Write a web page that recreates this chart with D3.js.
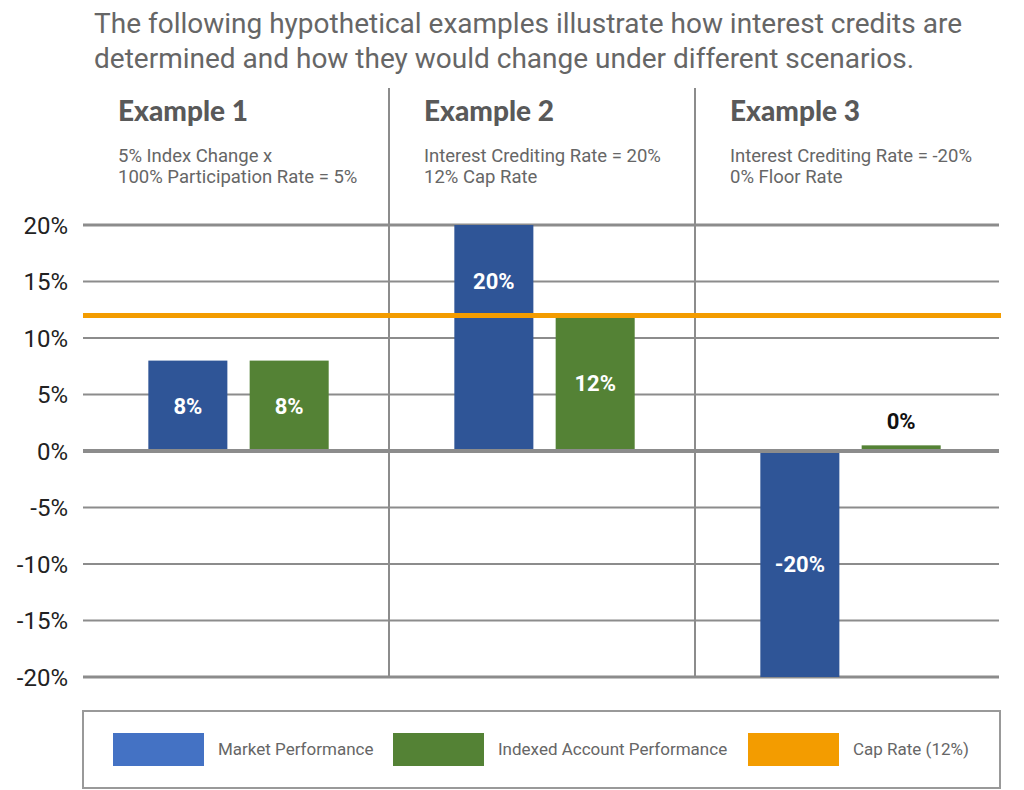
<!DOCTYPE html>
<html>
<head>
<meta charset="utf-8">
<script src="https://cdn.jsdelivr.net/npm/d3@7"></script>
<style>
  body { margin: 0; background: #fff; }
  svg { display: block; }
</style>
</head>
<body>
<script>
// chart data
var examples = ['Example 1', 'Example 2', 'Example 3'];
var exampleNotes = [
  ['5% Index Change x', '100% Participation Rate = 5%'],
  ['Interest Crediting Rate = 20%', '12% Cap Rate'],
  ['Interest Crediting Rate = -20%', '0% Floor Rate']
];
var series = ['Market Performance', 'Indexed Account Performance'];
var marketValues = [8, 20, -20];
var indexedValues = [8, 12, 0.5];
var marketLabels = ['8%', '20%', '-20%'];
var indexedLabels = ['8%', '12%', '0%'];
var capRate = 12;
var yTicks = [20, 15, 10, 5, 0, -5, -10, -15, -20];
var titleLines = [
  'The following hypothetical examples illustrate how interest credits are',
  'determined and how they would change under different scenarios.'
];
var legendItems = ['Market Performance', 'Indexed Account Performance', 'Cap Rate (12%)'];

var width = 1024, height = 790;
var barBlue = '#2f5597', barGreen = '#548235', capOrange = '#f39c00', legendBlue = '#4472c4';
var gridGray = '#8c8c8c';

var svg = d3.select('body')
            .append('svg')
            .attr('width', width)
            .attr('height', height);

var x0 = d3.scaleBand()
           .domain(examples)
           .range([83, 1001]);

var x1 = d3.scaleBand()
           .domain(series)
           .range([0, x0.bandwidth()])
           .paddingInner(0.22)
           .paddingOuter(0.62)
           .align(0.52);

var y = d3.scaleLinear()
          .domain([-20, 20])
          .range([677, 225]);

// title
svg.append('g')
   .selectAll('text')
   .data(titleLines)
   .enter()
   .append('text')
   .attr('x', 94)
   .attr('y', function (d, i) { return 33 + i * 35; })
   .style('font-family', 'Roboto')
   .style('font-size', '28px')
   .style('fill', '#666')
   .text(function (d) { return d; });

// horizontal grid
svg.append('g')
   .selectAll('line')
   .data(yTicks)
   .enter()
   .append('line')
   .attr('x1', 83)
   .attr('x2', 999)
   .attr('y1', function (d) { return y(d); })
   .attr('y2', function (d) { return y(d); })
   .attr('stroke', gridGray)
   .attr('stroke-width', function (d) {
       if (d === 0) return 4;
       if (Math.abs(d) === 20) return 3;
       return 2;
   });

// y axis labels
var yAxis = d3.axisLeft(y)
              .tickValues(yTicks)
              .tickSize(0)
              .tickPadding(0)
              .tickFormat(function (d) { return d + '%'; });

var yAxisG = svg.append('g')
                .attr('transform', 'translate(68,0)')
                .call(yAxis);
yAxisG.select('.domain').remove();
yAxisG.selectAll('text')
      .style('font-family', 'Roboto')
      .style('font-size', '24px')
      .style('fill', '#222')
      .attr('dy', '0.35em');

// panel dividers
svg.append('g')
   .selectAll('line')
   .data(examples.slice(1))
   .enter()
   .append('line')
   .attr('x1', function (d) { return x0(d); })
   .attr('x2', function (d) { return x0(d); })
   .attr('y1', 88)
   .attr('y2', y(-20))
   .attr('stroke', gridGray)
   .attr('stroke-width', 2);

// panel headers
var heads = svg.append('g')
               .selectAll('g')
               .data(examples)
               .enter()
               .append('g')
               .attr('transform', function (d) { return 'translate(' + (x0(d) + 35) + ',0)'; });

heads.append('text')
     .attr('y', 121)
     .style('font-family', 'Lato')
     .style('font-weight', '900')
     .style('font-size', '28px')
     .style('fill', '#595959')
     .text(function (d) { return d; });

heads.each(function (d, i) {
    d3.select(this)
      .selectAll('text.note')
      .data(exampleNotes[i])
      .enter()
      .append('text')
      .attr('class', 'note')
      .attr('y', function (n, j) { return 162 + j * 21; })
      .style('font-family', 'Roboto')
      .style('font-size', '18.5px')
      .style('fill', '#666')
      .text(function (n) { return n; });
});

// bars
var rows = examples.map(function (e, i) {
    return [
        { ex: e, s: series[0], v: marketValues[i], label: marketLabels[i], color: barBlue },
        { ex: e, s: series[1], v: indexedValues[i], label: indexedLabels[i], color: barGreen }
    ];
});
var barData = [].concat.apply([], rows);

svg.append('g')
   .selectAll('rect')
   .data(barData)
   .enter()
   .append('rect')
   .attr('x', function (d) { return x0(d.ex) + x1(d.s); })
   .attr('width', x1.bandwidth())
   .attr('y', function (d) { return y(Math.max(0, d.v)); })
   .attr('height', function (d) { return Math.abs(y(d.v) - y(0)); })
   .style('fill', function (d) { return d.color; });

// zero line on top of bars
svg.append('line')
   .attr('x1', 83)
   .attr('x2', 999)
   .attr('y1', y(0))
   .attr('y2', y(0))
   .attr('stroke', gridGray)
   .attr('stroke-width', 4);

// cap rate line
svg.append('line')
   .attr('x1', 83)
   .attr('x2', 1001)
   .attr('y1', y(capRate))
   .attr('y2', y(capRate))
   .attr('stroke', capOrange)
   .attr('stroke-width', 5);

// bar labels
svg.append('g')
   .selectAll('text')
   .data(barData)
   .enter()
   .append('text')
   .attr('x', function (d) { return x0(d.ex) + x1(d.s) + x1.bandwidth() / 2; })
   .attr('y', function (d) {
       if (Math.abs(d.v) < 1) return y(d.v) - 24;
       if (d.v > capRate) return y(d.v * 0.75);
       return y(d.v / 2);
   })
   .attr('dy', '0.35em')
   .attr('text-anchor', 'middle')
   .style('font-family', 'Roboto')
   .style('font-weight', 'bold')
   .style('font-size', '22px')
   .style('fill', function (d) { return Math.abs(d.v) < 1 ? '#111' : '#fff'; })
   .text(function (d) { return d.label; });

// legend
var legend = svg.append('g');
legend.append('rect')
      .attr('x', 83)
      .attr('y', 711)
      .attr('width', 917)
      .attr('height', 77)
      .attr('fill', 'none')
      .attr('stroke', '#999')
      .attr('stroke-width', 2);

var legendX = [113, 393, 748];
var legendColors = [legendBlue, barGreen, capOrange];

var items = legend.selectAll('g.item')
                  .data(legendItems)
                  .enter()
                  .append('g')
                  .attr('class', 'item')
                  .attr('transform', function (d, i) { return 'translate(' + legendX[i] + ',733)'; });

items.append('rect')
     .attr('width', 91)
     .attr('height', 33)
     .style('fill', function (d, i) { return legendColors[i]; });

items.append('text')
     .attr('x', 105)
     .attr('y', 22)
     .style('font-family', 'Roboto')
     .style('font-size', '17px')
     .style('fill', '#666')
     .text(function (d) { return d; });
</script>
</body>
</html>
